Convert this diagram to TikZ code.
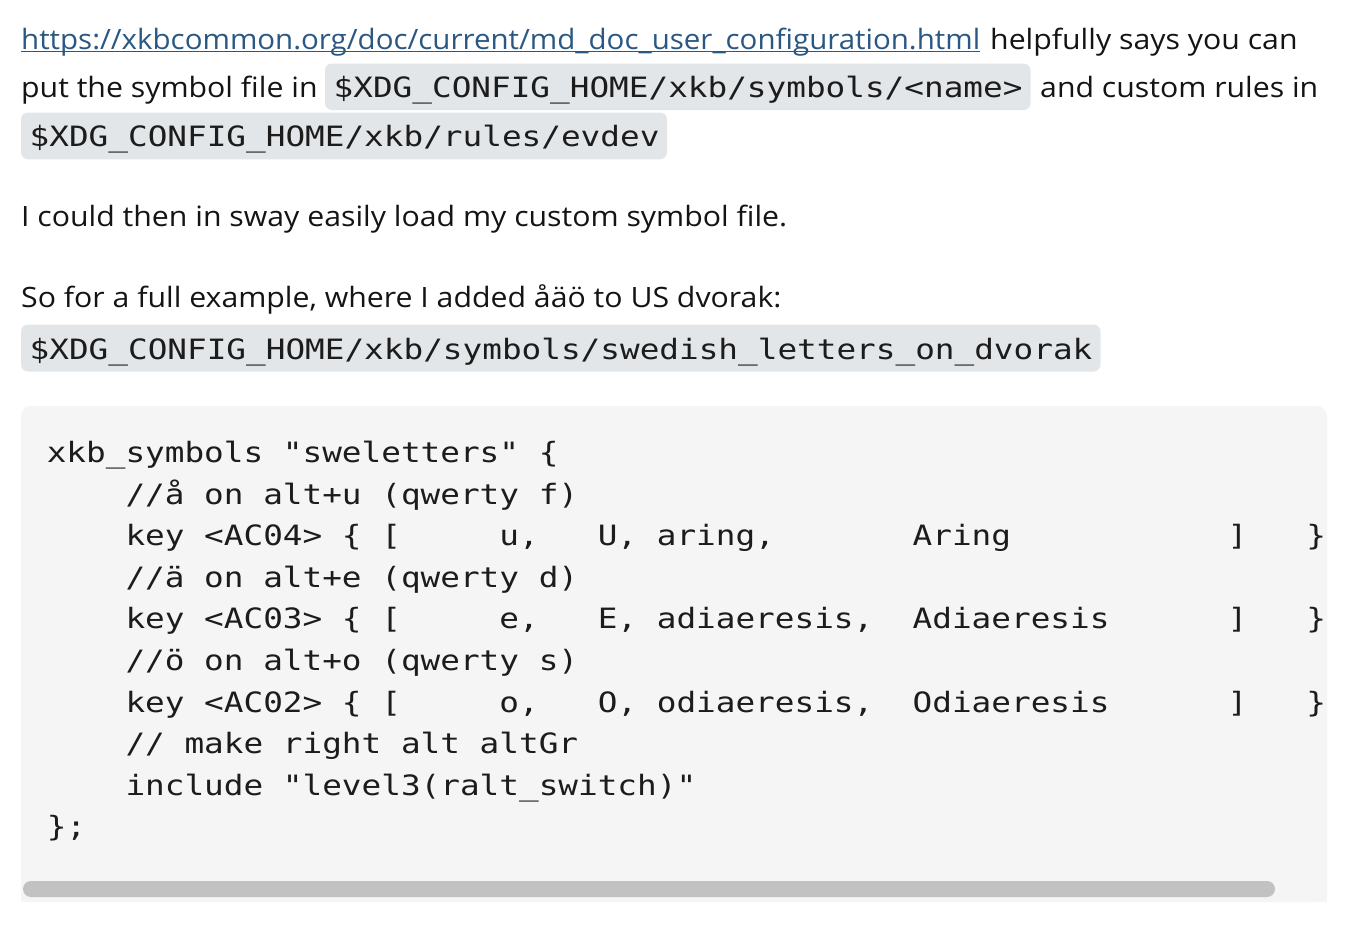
\documentclass[tikz,border=0pt]{standalone}
\usepackage{fontspec}
\setmainfont{Open Sans}[FakeStretch=1.08]
\newfontface\linkface{Open Sans}[FakeStretch=1.053]
\setmonofont{DejaVu Sans Mono}[FakeStretch=1.1675]
\definecolor{bodyfg}{RGB}{20,20,20}
\definecolor{codefg}{RGB}{28,28,28}
\definecolor{linkcol}{RGB}{42,88,132}
\definecolor{chipbg}{RGB}{227,230,232}
\definecolor{blockbg}{RGB}{245,245,245}
\definecolor{barcol}{RGB}{194,194,194}
\begin{document}
\begin{tikzpicture}[x=1pt,y=-1pt,
  body/.style={font=\fontsize{28}{34}\selectfont, anchor=base west, inner sep=0pt, text=bodyfg},
  linktext/.style={font=\fontsize{28}{34}\selectfont\linkface, anchor=base west, inner sep=0pt, text=linkcol},
  code/.style={font=\fontsize{28}{34}\selectfont\ttfamily, anchor=base west, inner sep=0pt, text=codefg},
  chip/.style={fill=chipbg, rounded corners=7pt}]
\useasboundingbox (0,0) rectangle (1350,926);
\fill[white] (0,0) rectangle (1350,926);

% line 1
\node[linktext] (link) at (21,49) {https://xkbcommon.org/doc/current/md\_doc\_user\_configuration.html};
\draw[linkcol, line width=1.7pt] ([yshift=-2.6pt]link.base west) -- ([yshift=-2.6pt]link.base east);
\node[body] (help) at (990,49) {helpfully says you can};

% line 2
\fill[chip] (325,63.5) rectangle (1030.5,110);
\node[body] (put) at (21,97.5) {put the symbol file in};
\node[code] (c1) at (333.5,97.5) {\$XDG\_CONFIG\_HOME/xkb/symbols/<name>};
\node[body] (and) at (1040,97.5) {and custom rules in};

% line 3
\fill[chip] (21,112.5) rectangle (667,159.3);
\node[code] (c2) at (29.5,146.5) {\$XDG\_CONFIG\_HOME/xkb/rules/evdev};

\node[body] (could) at (21,226) {I could then in sway easily load my custom symbol file.};
\node[body] (sofor) at (21,307.3) {So for a full example, where I added åäö to US dvorak:};

\fill[chip] (21,324.5) rectangle (1100.5,371.5);
\node[code] (c3) at (29.5,359.5) {\$XDG\_CONFIG\_HOME/xkb/symbols/swedish\_letters\_on\_dvorak};

% code block
\fill[blockbg, rounded corners=10pt] (21,406) rectangle (1327,902);
\fill[blockbg] (21,850) rectangle (1327,902);
\fill[barcol, rounded corners=8pt] (23,881) rectangle (1275,897);

\node[code] (r0) at (46.6,462.5) {xkb\_symbols "sweletters" \{};
\node[code] (r1) at (125.3,504.1) {//å on alt+u (qwerty f)};
\node[code] (r2a) at (125.3,545.7) {key <AC04> \{ [};
\node[code] (r2b) at (499.2,545.7) {u,};
\node[code] (r2c) at (597.6,545.7) {U, aring,};
\node[code] (r2d) at (912.5,545.7) {Aring};
\node[code] (r2e) at (1227.4,545.7) {]};
\node[code] (r2f) at (1306.1,545.7) {\}};
\node[code] (r3) at (125.3,587.3) {//ä on alt+e (qwerty d)};
\node[code] (r4a) at (125.3,628.9) {key <AC03> \{ [};
\node[code] (r4b) at (499.2,628.9) {e,};
\node[code] (r4c) at (597.6,628.9) {E, adiaeresis,};
\node[code] (r4d) at (912.5,628.9) {Adiaeresis};
\node[code] (r4e) at (1227.4,628.9) {]};
\node[code] (r4f) at (1306.1,628.9) {\}};
\node[code] (r5) at (125.3,670.5) {//ö on alt+o (qwerty s)};
\node[code] (r6a) at (125.3,712.1) {key <AC02> \{ [};
\node[code] (r6b) at (499.2,712.1) {o,};
\node[code] (r6c) at (597.6,712.1) {O, odiaeresis,};
\node[code] (r6d) at (912.5,712.1) {Odiaeresis};
\node[code] (r6e) at (1227.4,712.1) {]};
\node[code] (r6f) at (1306.1,712.1) {\}};
\node[code] (r7) at (125.3,753.7) {// make right alt altGr};
\node[code] (r8) at (125.3,795.3) {include "level3(ralt\_switch)"};
\node[code] (r9) at (46.6,836.9) {\};};
\end{tikzpicture}
\end{document}
